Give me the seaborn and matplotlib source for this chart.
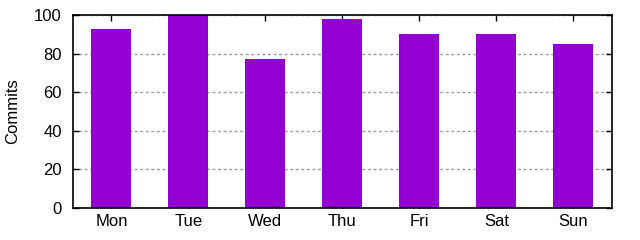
import matplotlib
matplotlib.use("Agg")
import matplotlib.pyplot as plt
import seaborn as sns
import pandas as pd

days = ["Mon", "Tue", "Wed", "Thu", "Fri", "Sat", "Sun"]
commits = [93, 100, 77, 98, 90, 90, 85]
yticks = [0, 20, 40, 60, 80, 100]

sns.set_theme(style="white")
plt.rcParams['font.family'] = ['Liberation Sans', 'DejaVu Sans']

df = pd.DataFrame({"day": days, "commits": commits})
fig = plt.figure(figsize=(6.4, 2.4), dpi=100)
ax = fig.add_axes([0.114, 0.133, 0.842, 0.8045])
sns.barplot(data=df, x="day", y="commits", color="#9400D3", saturation=1,
            width=0.52, ax=ax, zorder=2, linewidth=0, edgecolor="none")
ax.set_xlim(-0.5, 6.5)
ax.set_ylim(0, 100)
ax.set_yticks(yticks)
ax.yaxis.grid(True, linestyle=(0, (2.2, 1.8)), color="#a0a0a0", linewidth=1, zorder=0)
ax.set_axisbelow(True)
ax.set_xlabel("")
ax.set_ylabel("Commits", fontsize=12, labelpad=10, color="black")
for s in ax.spines.values():
    s.set_color("black")
    s.set_linewidth(1.2)
ax.tick_params(axis="both", direction="in", length=4, width=1, colors="black",
               labelsize=12, top=True, right=True, bottom=True, left=True,
               labelcolor="black")
ax.tick_params(axis="y", pad=8)
ax.tick_params(axis="x", pad=4)
fig.savefig("out.png", dpi=100)
